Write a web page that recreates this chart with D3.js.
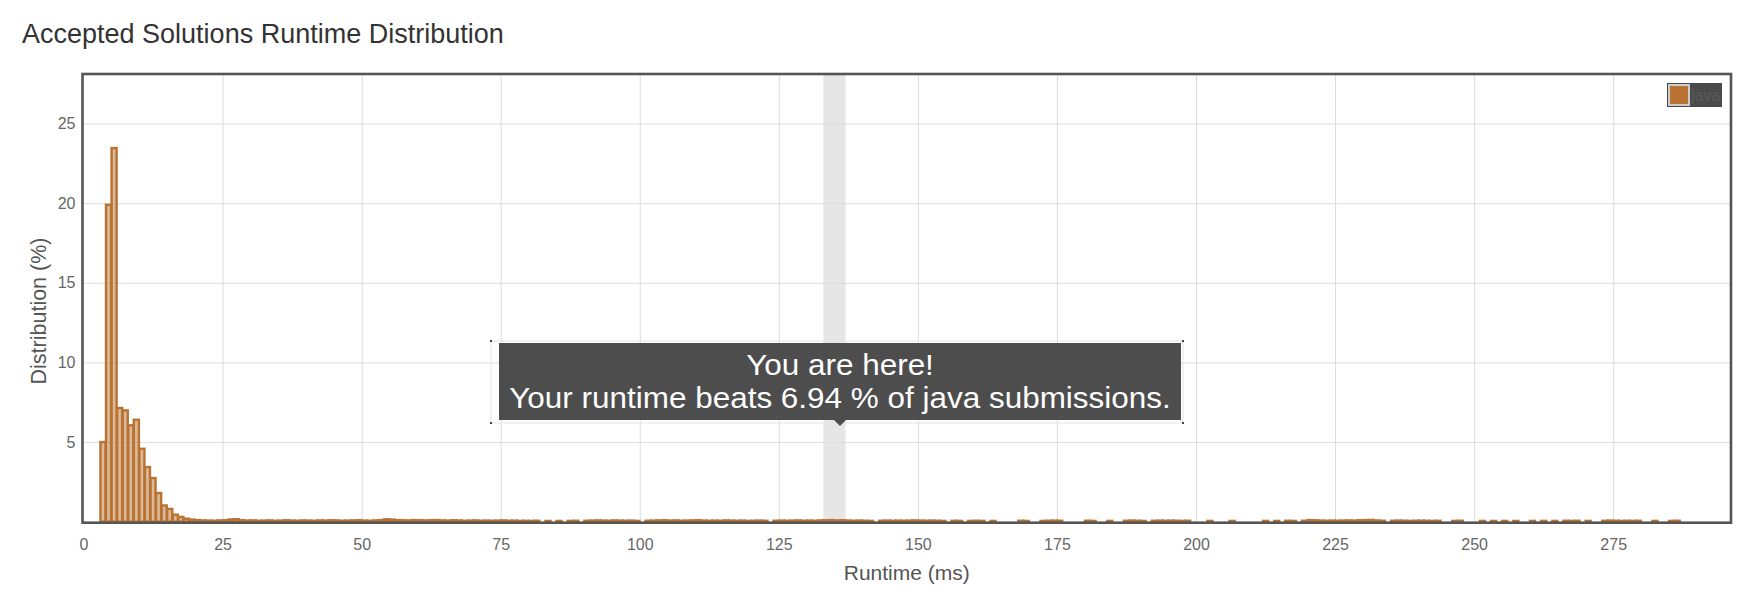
<!DOCTYPE html>
<html lang="en">
<head>
<meta charset="UTF-8">
<title>Accepted Solutions Runtime Distribution</title>
<style>
  body { margin: 0; background: #fff; }
  svg text { font-family: "Liberation Sans", Arial, Helvetica, sans-serif; }
  .grid line { stroke: #dcdcdc; stroke-width: 1px; }
  .grid path { display: none; }
  .bar { fill: rgba(184, 115, 51, 0.5); stroke: #b87333; stroke-width: 2.4px; }
</style>
<script src="https://cdn.jsdelivr.net/npm/d3@7"></script>
</head>
<body>
<script>
// Data: percent of accepted java submissions per 1 ms runtime bin.
// First entry is the 3 ms bin; 0 means the bin has no bar.
var firstRuntime = 3;
var distribution = [
  5.0, 19.9, 23.46, 7.14, 6.99, 6.05, 6.4, 4.58, 3.43, 2.74,
  1.8, 1.02, 0.8, 0.44, 0.3, 0.19, 0.13, 0.1, 0.08, 0.07,
  0.06, 0.08, 0.09, 0.14, 0.16, 0.09, 0.07, 0.08, 0.06, 0.07,
  0.08, 0.06, 0.07, 0.09, 0.07, 0.06, 0.08, 0.07, 0.06, 0.08,
  0.07, 0.09, 0.08, 0.06, 0.07, 0.08, 0.09, 0.07, 0.06, 0.08,
  0.1, 0.15, 0.13, 0.1, 0.09, 0.08, 0.1, 0.09, 0.08, 0.09,
  0.1, 0.08, 0.07, 0.09, 0.08, 0.06, 0.07, 0.08, 0.06, 0.07,
  0.06, 0.07, 0.08, 0.06, 0.07, 0.05, 0.06, 0.05, 0.06, 0,
  0.05, 0, 0.05, 0, 0.05, 0.06, 0, 0.06, 0.07, 0.08,
  0.07, 0.06, 0.08, 0.07, 0.06, 0.07, 0.05, 0, 0.06, 0.07,
  0.08, 0.09, 0.07, 0.08, 0.06, 0.07, 0.08, 0.09, 0.07, 0.06,
  0.07, 0.06, 0.08, 0.07, 0.06, 0.07, 0.05, 0.06, 0.07, 0.06,
  0, 0.06, 0.07, 0.06, 0.07, 0.08, 0.06, 0.07, 0.06, 0.08,
  0.09, 0.1, 0.08, 0.09, 0.07, 0.06, 0.07, 0.06, 0.05, 0,
  0.06, 0.07, 0.06, 0.07, 0.06, 0.07, 0.08, 0.07, 0.06, 0.07,
  0.06, 0.05, 0, 0.06, 0.05, 0, 0.05, 0.06, 0.05, 0,
  0.05, 0, 0, 0, 0, 0.06, 0.05, 0, 0, 0.05,
  0.06, 0.07, 0.06, 0, 0, 0, 0, 0.06, 0.05, 0,
  0, 0.05, 0, 0, 0.06, 0.07, 0.06, 0.05, 0, 0.06,
  0.07, 0.06, 0.07, 0.06, 0.05, 0.06, 0, 0, 0, 0.05,
  0, 0, 0, 0.05, 0, 0, 0, 0, 0, 0.05,
  0, 0.05, 0, 0.06, 0.05, 0, 0.06, 0.1, 0.09, 0.07,
  0.06, 0.07, 0.06, 0.07, 0.08, 0.07, 0.09, 0.1, 0.11, 0.08,
  0.06, 0, 0.06, 0.07, 0.06, 0.05, 0.06, 0.07, 0.06, 0.05,
  0.06, 0, 0, 0.05, 0.06, 0, 0, 0, 0.05, 0,
  0.05, 0, 0.05, 0, 0.05, 0, 0, 0.05, 0, 0.05,
  0, 0.05, 0, 0.06, 0.05, 0.06, 0, 0.05, 0, 0,
  0.06, 0.07, 0.06, 0.05, 0.06, 0.05, 0.06, 0, 0, 0.05,
  0, 0, 0.05, 0.06
];
var xTicks = [0, 25, 50, 75, 100, 125, 150, 175, 200, 225, 250, 275];
var yTicks = [5, 10, 15, 20, 25];
var highlightBand = [133, 137];   // shaded runtime band
var myRuntime = 136;              // where the tooltip points
var tooltipLines = ["You are here!", "Your runtime beats 6.94 % of java submissions."];
var seriesName = "java";

// sizes
var width = 1752, height = 589;
var plot = {left: 83.5, right: 1730, top: 75, bottom: 521.7};

var svg = d3.select("body").append("svg")
    .attr("width", width)
    .attr("height", height);

var x = d3.scaleLinear().domain([0, 296]).range([plot.left, plot.right]);
var y = d3.scaleLinear().domain([0, 28.05]).range([plot.bottom, plot.top]);

// title
svg.append("text")
    .attr("x", 22).attr("y", 43)
    .attr("fill", "#333")
    .style("font-size", "27px")
    .text("Accepted Solutions Runtime Distribution");

// highlight band
svg.append("rect")
    .attr("x", x(highlightBand[0]))
    .attr("y", plot.top)
    .attr("width", x(highlightBand[1]) - x(highlightBand[0]))
    .attr("height", plot.bottom - plot.top)
    .attr("fill", "#e6e6e6");

// grid lines
svg.append("g").attr("class", "grid")
    .attr("transform", "translate(0," + plot.bottom + ")")
    .call(d3.axisBottom(x).tickValues(xTicks.slice(1)).tickSize(-(plot.bottom - plot.top)).tickFormat(""));
svg.append("g").attr("class", "grid")
    .attr("transform", "translate(" + plot.left + ",0)")
    .call(d3.axisLeft(y).tickValues(yTicks).tickSize(-(plot.right - plot.left)).tickFormat(""));

// bars
var bins = [];
distribution.forEach(function(v, i) {
  if (v > 0) bins.push({runtime: firstRuntime + i, value: v});
});
svg.append("g").selectAll("rect").data(bins).join("rect")
    .attr("class", "bar")
    .attr("x", function(d) { return x(d.runtime) + 0.25; })
    .attr("width", function(d) { return x(d.runtime + 1) - x(d.runtime) - 0.5; })
    .attr("y", function(d) { return y(d.value); })
    .attr("height", function(d) { return y(0) - y(d.value); });

// plot border
svg.append("rect")
    .attr("x", plot.left - 1).attr("y", plot.top - 1)
    .attr("width", plot.right - plot.left + 2)
    .attr("height", plot.bottom - plot.top + 2)
    .attr("fill", "none")
    .attr("stroke", "#555")
    .attr("stroke-width", 2.6);

// tick labels
var xAxis = svg.append("g")
    .attr("transform", "translate(0," + plot.bottom + ")")
    .call(d3.axisBottom(x).tickValues(xTicks).tickSize(0).tickPadding(17));
xAxis.select(".domain").remove();
xAxis.selectAll("text").attr("fill", "#666").style("font-size", "16px");

var yAxis = svg.append("g")
    .attr("transform", "translate(" + plot.left + ",0)")
    .call(d3.axisLeft(y).tickValues(yTicks).tickSize(0).tickPadding(8));
yAxis.select(".domain").remove();
yAxis.selectAll("text").attr("fill", "#666").style("font-size", "16px");

// axis titles
svg.append("text")
    .attr("x", (plot.left + plot.right) / 2).attr("y", 580)
    .attr("text-anchor", "middle")
    .attr("fill", "#555")
    .style("font-size", "21px")
    .text("Runtime (ms)");
svg.append("text")
    .attr("transform", "translate(46,311) rotate(-90)")
    .attr("text-anchor", "middle")
    .attr("fill", "#555")
    .style("font-size", "21.5px")
    .text("Distribution (%)");

// legend
var legend = svg.append("g").attr("transform", "translate(1667,83)");
legend.append("rect").attr("width", 55).attr("height", 24).attr("fill", "#4a4a4a");
legend.append("rect").attr("x", 2).attr("y", 2).attr("width", 20).attr("height", 20)
    .attr("fill", "#b87333").attr("stroke", "#ccc").attr("stroke-width", 2);
legend.append("text").attr("x", 24).attr("y", 18)
    .attr("fill", "#5a5a5a").style("font-size", "16px").text(seriesName);

// tooltip
var tx = x(myRuntime);
var tip = svg.append("g");
tip.append("rect")
    .attr("x", 491).attr("y", 341).attr("width", 692).attr("height", 82)
    .attr("fill", "none").attr("stroke", "#e4e4e4").attr("stroke-width", 1);
[[491, 341], [1183, 341], [491, 423], [1183, 423]].forEach(function(c) {
  tip.append("rect").attr("x", c[0] - 1).attr("y", c[1] - 1).attr("width", 2).attr("height", 2).attr("fill", "#444");
});
tip.append("rect")
    .attr("x", tx - 341).attr("y", 343).attr("width", 682).attr("height", 77)
    .attr("fill", "#4d4d4d");
tip.append("path")
    .attr("d", "M" + (tx - 6) + ",420 L" + tx + ",426 L" + (tx + 6) + ",420 Z")
    .attr("fill", "#4d4d4d");
// text is a little wider than the font gives, so stretch it sideways
tip.append("g")
    .attr("transform", "translate(" + tx + ",0) scale(1.085,1)")
  .selectAll("text").data(tooltipLines).join("text")
    .attr("x", 0)
    .attr("y", function(d, i) { return 375 + i * 33; })
    .attr("text-anchor", "middle")
    .attr("fill", "#fff")
    .style("font-size", "29px")
    .text(function(d) { return d; });
</script>
</body>
</html>
